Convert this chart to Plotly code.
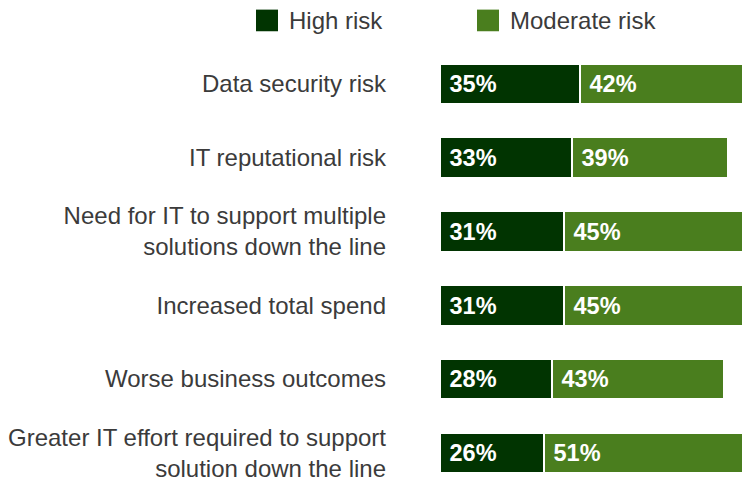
import plotly.graph_objects as go

categories = [
    "Data security risk",
    "IT reputational risk",
    "Need for IT to support multiple<br>solutions down the line",
    "Increased total spend",
    "Worse business outcomes",
    "Greater IT effort required to support<br>solution down the line",
]
high_risk = [35, 33, 31, 31, 28, 26]
moderate_risk = [42, 39, 45, 45, 43, 51]
series_names = ["High risk", "Moderate risk"]
series_colors = ["#013401", "#4a7e1e"]

ypos = list(range(len(categories)))
FONT = "Liberation Sans"
TXT = "#3b3b3b"

fig = go.Figure()
for name, vals, col in zip(series_names, [high_risk, moderate_risk], series_colors):
    fig.add_trace(go.Bar(
        y=ypos, x=vals, name=name, orientation="h",
        marker=dict(color=col, line=dict(color="white", width=2)),
        width=0.55,
        text=["\u00a0%d%%" % v for v in vals],
        textposition="inside", insidetextanchor="start",
        textfont=dict(family=FONT, size=23.5, color="white", weight="bold"),
        showlegend=False,
        hoverinfo="skip",
    ))

# manual legend (large square swatches)
leg_x = [256, 477]
W, H = 742, 482
L, R, T, B = 441, 0, 47, 0
pw, ph = W - L - R, H - T - B
def px(x):
    return (x - L) / pw
def py(y):
    return (H - B - y) / ph

for name, col, x0 in zip(series_names, series_colors, leg_x):
    fig.add_shape(type="rect", xref="paper", yref="paper",
                  x0=px(x0), x1=px(x0 + 22), y0=py(31), y1=py(9),
                  fillcolor=col, line=dict(width=0))
    fig.add_annotation(xref="paper", yref="paper", x=px(x0 + 31), y=py(20),
                       text=name, showarrow=False, xanchor="left", yanchor="middle",
                       font=dict(family=FONT, size=24, color=TXT))

fig.update_layout(
    barmode="stack",
    width=W, height=H,
    margin=dict(l=L, r=R, t=T, b=B, pad=0),
    paper_bgcolor="white", plot_bgcolor="white",
    bargap=0,
    xaxis=dict(range=[0.25, 75.5], visible=False, fixedrange=True),
    yaxis=dict(
        range=[5.3, -0.5], tickvals=ypos, ticktext=categories,
        showgrid=False, zeroline=False, showline=False, ticks="",
        ticklabelstandoff=54, ticklabeloverflow="allow",
        tickfont=dict(family=FONT, size=24, color=TXT),
        fixedrange=True,
    ),
    font=dict(family=FONT),
)

fig.write_html("out.html", config={"displayModeBar": False})

with open("out.html", "r", encoding="utf-8") as f:
    html = f.read()
html = html.replace("<head>", "<head><style>html,body{margin:0;padding:0;overflow:hidden;}</style>", 1)
with open("out.html", "w", encoding="utf-8") as f:
    f.write(html)
